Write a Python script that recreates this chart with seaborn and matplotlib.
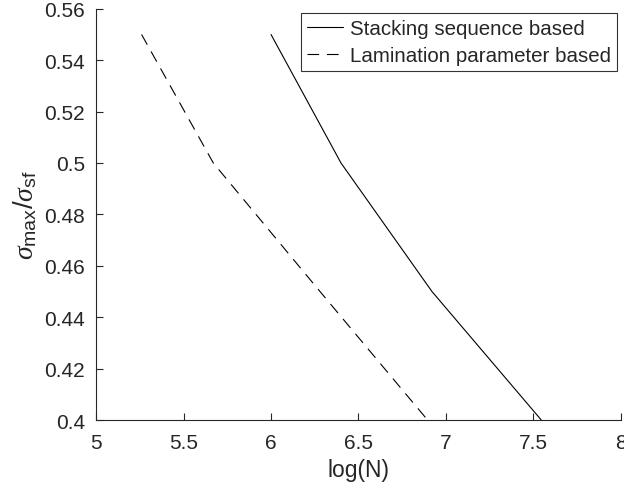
import pandas as pd
import seaborn as sns
import matplotlib.pyplot as plt

# values
stress_ratio = [0.55, 0.50, 0.45, 0.40]
logn_stacking = [6.00, 6.40, 6.92, 7.545]
logn_lamination = [5.26, 5.67, 6.28, 6.895]
labels = ['Stacking sequence based', 'Lamination parameter based']

data = pd.DataFrame({
    'logN': logn_stacking + logn_lamination,
    'ratio': stress_ratio * 2,
    'method': [labels[0]] * 4 + [labels[1]] * 4,
})

sns.set_style('ticks')
plt.rcParams['font.family'] = ['Liberation Sans', 'DejaVu Sans']
plt.rcParams['mathtext.fontset'] = 'custom'
plt.rcParams['mathtext.rm'] = 'Liberation Sans'
plt.rcParams['mathtext.it'] = 'Liberation Serif:italic'

fig = plt.figure(figsize=(6.24, 4.89), dpi=100)
ax = fig.add_axes([0.154, 0.139, 0.841, 0.841])

sns.lineplot(data=data, x='logN', y='ratio', hue='method', style='method',
             palette=['black', 'black'], dashes=[(None, None), (10.5, 7)],
             sort=False, estimator=None, linewidth=0.8, ax=ax)

ax.set_xlim(5, 8)
ax.set_ylim(0.4, 0.56)
ax.set_xticks([5, 5.5, 6, 6.5, 7, 7.5, 8])
ax.set_xticklabels(['5', '5.5', '6', '6.5', '7', '7.5', '8'])
ax.set_yticks([0.4, 0.42, 0.44, 0.46, 0.48, 0.5, 0.52, 0.54, 0.56])
ax.set_yticklabels(['0.4', '0.42', '0.44', '0.46', '0.48', '0.5', '0.52', '0.54', '0.56'])

sns.despine(ax=ax)
for side in ['left', 'bottom']:
    ax.spines[side].set_color('#262626')
    ax.spines[side].set_linewidth(0.8)
ax.tick_params(direction='in', length=5, width=0.8, colors='#262626',
               labelsize=15, labelcolor='#262626', pad=8)
ax.tick_params(axis='x', pad=9)

ax.set_xlabel('log(N)', fontsize=16.5, color='#262626', labelpad=5)
ax.set_ylabel(r'$\sigma_{\rm max}/\sigma_{\rm sf}$', fontsize=20, color='#262626', labelpad=4)

leg = ax.legend(loc='upper right', fontsize=14.8, frameon=True, fancybox=False,
                edgecolor='black', borderpad=0.3, handlelength=1.75,
                handletextpad=0.3, labelspacing=0.4, borderaxespad=0.2)
leg.get_frame().set_linewidth(0.8)

fig.savefig('out.png', dpi=100)
